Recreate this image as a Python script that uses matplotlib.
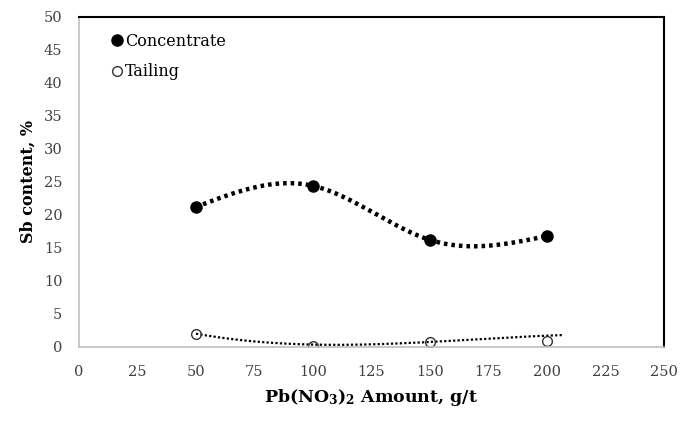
import numpy as np
import matplotlib.pyplot as plt

plt.rcParams['font.family'] = ['DejaVu Serif']
plt.rcParams['mathtext.fontset'] = 'dejavuserif'
plt.rcParams['mathtext.default'] = 'bf'

# data
amount = np.array([50, 100, 150, 200])
concentrate = np.array([21.2, 24.4, 16.2, 16.8])
tailing = np.array([2.0, 0.2, 0.75, 0.95])

# tailing trendline
trend_x = np.array([50, 100, 150, 200, 207])
trend_y = np.array([2.0, 0.35, 0.75, 1.7, 1.8])


def natural_spline(x, y, xs):
    # natural cubic spline through the points
    n = len(x)
    h = np.diff(x)
    A = np.zeros((n, n))
    b = np.zeros(n)
    A[0, 0] = 1
    A[-1, -1] = 1
    for i in range(1, n - 1):
        A[i, i - 1] = h[i - 1]
        A[i, i] = 2 * (h[i - 1] + h[i])
        A[i, i + 1] = h[i]
        b[i] = 6 * ((y[i + 1] - y[i]) / h[i] - (y[i] - y[i - 1]) / h[i - 1])
    M = np.linalg.solve(A, b)
    out = np.empty_like(xs)
    for k, xv in enumerate(xs):
        i = min(np.searchsorted(x, xv, side='right') - 1, n - 2)
        i = max(i, 0)
        t1 = x[i + 1] - xv
        t0 = xv - x[i]
        out[k] = (M[i] * t1**3 + M[i + 1] * t0**3) / (6 * h[i]) \
            + (y[i] / h[i] - M[i] * h[i] / 6) * t1 \
            + (y[i + 1] / h[i] - M[i + 1] * h[i] / 6) * t0
    return out


xc = np.linspace(50, 200, 300)
yc = natural_spline(amount.astype(float), concentrate, xc)
pt = np.polyfit(trend_x, trend_y, 3)
xt = np.linspace(50, 207, 200)

fig = plt.figure(figsize=(6.81, 4.21), dpi=100)
ax = fig.add_axes([0.116, 0.176, 0.859, 0.784])

ax.plot(xc, yc, color='black', lw=3.2, linestyle=(0, (0.8, 0.9)))
ax.plot(xt, np.polyval(pt, xt), color='black', lw=1.6, linestyle=(0, (1, 1)))
ax.plot(amount, concentrate, 'o', color='black', ms=8, label='Concentrate')
ax.plot(amount, tailing, 'o', mfc='none', mec='#333333', mew=1.0, ms=7, label='Tailing')

ax.set_xlim(0, 250)
ax.set_ylim(0, 50)
ax.set_xticks(np.arange(0, 251, 25))
ax.set_yticks(np.arange(0, 51, 5))
ax.tick_params(length=0, labelsize=10.5, colors='#404040')
ax.tick_params(axis='x', pad=13)
ax.tick_params(axis='y', pad=12)

for s in ['left', 'bottom']:
    ax.spines[s].set_color('#bfbfbf')
    ax.spines[s].set_linewidth(1.2)
for s in ['top', 'right']:
    ax.spines[s].set_color('black')
    ax.spines[s].set_linewidth(1.5)

ax.set_xlabel(r'Pb(NO$_3$)$_2$ Amount, g/t', fontsize=12.5, fontweight='bold', labelpad=6)
ax.set_ylabel('Sb content, %', fontsize=11.5, fontweight='bold', labelpad=5)

ax.legend(loc='upper left', frameon=False, fontsize=11.5, handletextpad=0.0,
          handlelength=1.0, labelspacing=0.85, bbox_to_anchor=(0.027, 0.995))

fig.savefig('out.png', dpi=100)
